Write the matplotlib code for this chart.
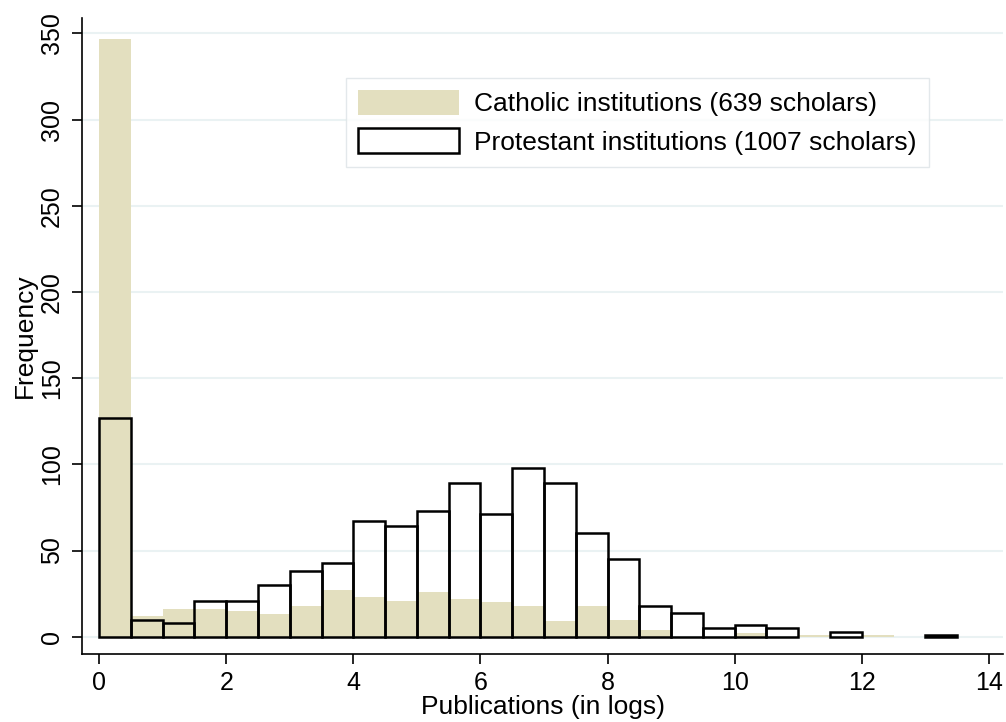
import matplotlib
matplotlib.use("Agg")
import matplotlib.pyplot as plt
import numpy as np

# bin edges: width 0.5 from 0 to 14
bin_left = np.arange(0, 14, 0.5)
catholic = [347, 12, 16, 16, 15, 13, 18, 27, 23, 21, 26, 22, 20, 18,
            9, 18, 10, 4, 0, 0, 2, 0, 1, 0, 1, 0, 0, 0]
protestant = [127, 10, 8, 21, 21, 30, 38, 43, 67, 64, 73, 89, 71, 98,
              89, 60, 45, 18, 14, 5, 7, 5, 0, 3, 0, 0, 1, 0]
x_ticks = [0, 2, 4, 6, 8, 10, 12, 14]
y_ticks = [0, 50, 100, 150, 200, 250, 300, 350]

plt.rcParams['font.family'] = ['Liberation Sans', 'DejaVu Sans']

fig = plt.figure(figsize=(10.06, 7.22), dpi=100)
ax = fig.add_axes([0.0815, 0.0942, 0.916, 0.881])

sand = '#e3dfbf'
ax.bar(bin_left, catholic, width=0.5, align='edge', color=sand,
       edgecolor='none', label='Catholic institutions (639 scholars)', zorder=2)

# only draw non-empty protestant bins so no stray line at zero
px = [b for b, v in zip(bin_left, protestant) if v > 0]
pv = [v for v in protestant if v > 0]
ax.bar(px, pv, width=0.5, align='edge', facecolor='none',
       edgecolor='black', linewidth=1.8, zorder=3,
       label='Protestant institutions (1007 scholars)')

ax.set_xlim(-0.27, 14.23)
ax.set_ylim(-10, 359)
ax.set_xticks(x_ticks)
ax.set_yticks(y_ticks)
for t in y_ticks:
    ax.axhline(t, color='#eaf2f3', linewidth=1.5, zorder=1)

for s in ['top', 'right']:
    ax.spines[s].set_visible(False)
for s in ['left', 'bottom']:
    ax.spines[s].set_linewidth(1.2)

ax.tick_params(axis='both', direction='out', length=7, width=1.2, labelsize=18)
ax.tick_params(axis='x', pad=5)
ax.tick_params(axis='y', pad=6)
plt.setp(ax.get_yticklabels(), rotation=90, va='center')

ax.set_xlabel('Publications (in logs)', fontsize=19, labelpad=0.5)
ax.set_ylabel('Frequency', fontsize=19, labelpad=2)

leg = ax.legend(loc='upper left', bbox_to_anchor=(0.287, 0.906), borderaxespad=0,
                fontsize=19, fancybox=False, handlelength=3.8, handleheight=1.1,
                borderpad=0.45, labelspacing=0.45, handletextpad=0.6)
leg.get_frame().set_edgecolor('#dde3e6')
leg.get_frame().set_linewidth(1.0)

fig.savefig('out.png', dpi=100)
